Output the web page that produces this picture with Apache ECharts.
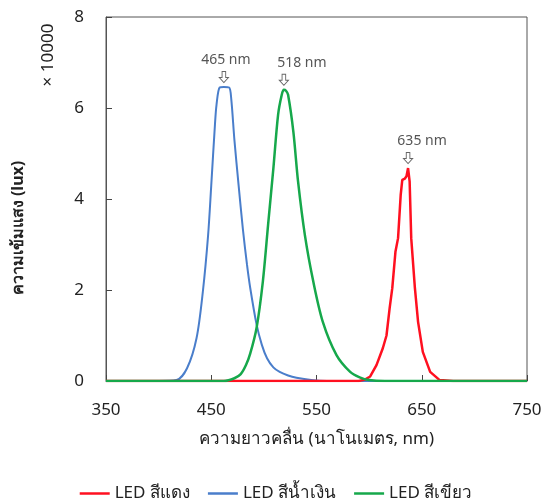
<!DOCTYPE html>
<html>
<head>
<meta charset="utf-8">
<script src="https://cdn.jsdelivr.net/npm/echarts@6/dist/echarts.min.js"></script>
<style>
	html, body { margin: 0; padding: 0; background: #fff; }
	#chart { width: 552px; height: 504px; }
</style>
</head>
<body>
<div id="chart"></div>
<script>
	// wavelength (nm) / intensity (x 10000 lux)
	const seriesNames = ["LED สีแดง", "LED สีน้ำเงิน", "LED สีเขียว"];

	const redNm = [350, 590, 596, 601, 607, 613, 616.5, 619.5, 622, 625, 627.5, 630, 631.5, 634, 635.5, 637, 638.5, 640, 643.5, 646.5, 651, 658, 667, 680, 750];
	const redVal = [0, 0, 0.03, 0.1, 0.35, 0.72, 1.0, 1.6, 2.04, 2.84, 3.14, 4.09, 4.42, 4.45, 4.5, 4.68, 4.38, 3.14, 2.04, 1.3, 0.64, 0.2, 0.02, 0, 0];

	const blueNm = [350, 400, 417, 427, 436, 442, 447, 450, 453.5, 455, 458, 462, 467, 469, 472, 476, 480, 484, 487, 493, 498, 503, 509, 515, 523, 531, 545, 560, 750];
	const blueVal = [0, 0, 0.02, 0.28, 0.94, 1.96, 3.2, 4.3, 5.63, 6.07, 6.45, 6.46, 6.45, 6.2, 5.3, 4.3, 3.35, 2.55, 2.05, 1.25, 0.8, 0.5, 0.3, 0.2, 0.12, 0.07, 0.02, 0, 0];

	const greenNm = [350, 462, 472, 478, 483, 487, 493, 499, 504, 509, 513.5, 517, 519, 521, 523, 528, 532.5, 539, 547, 556, 569, 582, 591, 600, 615, 750];
	const greenVal = [0, 0, 0.06, 0.15, 0.35, 0.6, 1.16, 2.18, 3.43, 4.67, 5.85, 6.29, 6.4, 6.38, 6.29, 5.48, 4.38, 3.2, 2.18, 1.3, 0.57, 0.2, 0.08, 0.02, 0, 0];

	const peakLabels = ["635 nm", "465 nm", "518 nm"];
	const xTicks = [350, 450, 550, 650, 750];
	const yTicks = [0, 2, 4, 6, 8];

	const font = "'Noto Sans', 'DejaVu Sans', sans-serif";
	const arrowPath = "path://M3,0 L7,0 L7,6 L10,6 L5,11 L0,6 L3,6 Z";

	function pairs(xs, ys) {
		return xs.map((x, i) => [x, ys[i]]);
	}

	function peakPoint(xs, ys, text, dx) {
		let k = 0;
		ys.forEach((v, i) => { if (v > ys[k]) k = i; });
		return {
			symbol: arrowPath,
			symbolSize: [9, 11],
			symbolOffset: [0, -10],
			animation: false,
			silent: true,
			itemStyle: { color: "#fff", borderColor: "#666", borderWidth: 1 },
			label: {
				show: true,
				position: "top",
				distance: 4,
				offset: [dx, 0],
				color: "#555",
				fontSize: 14,
				fontFamily: font,
				formatter: text
			},
			data: [{ coord: [xs[k], ys[k]] }]
		};
	}

	const colors = ["#ff1020", "#4a7ecb", "#16a84b"];
	const lineData = [pairs(redNm, redVal), pairs(blueNm, blueVal), pairs(greenNm, greenVal)];
	const peakDx = [14, 2, 18];
	const zs = [3, 2, 4];
	const widths = [2.5, 2, 2.5];
	const smooths = [false, 0.3, 0.3];
	const rawX = [redNm, blueNm, greenNm];
	const rawY = [redVal, blueVal, greenVal];

	const chart = echarts.init(document.getElementById("chart"), null, { renderer: "canvas" });

	const option = {
		animation: false,
		textStyle: { fontFamily: font },
		grid: {
			left: 106,
			right: 25,
			top: 17,
			bottom: 123,
			show: true,
			borderColor: "#555",
			borderWidth: 1
		},
		xAxis: {
			type: "value",
			min: xTicks[0],
			max: xTicks[xTicks.length - 1],
			interval: xTicks[1] - xTicks[0],
			name: "ความยาวคลื่น (นาโนเมตร, nm)",
			nameLocation: "middle",
			nameGap: 50,
			nameTextStyle: { fontSize: 17, color: "#222", fontFamily: font },
			axisLine: { lineStyle: { color: "#555" } },
			axisTick: { inside: true, length: 6, lineStyle: { color: "#444" } },
			axisLabel: { fontSize: 17, color: "#222", margin: 21 },
			splitLine: { show: false }
		},
		yAxis: {
			type: "value",
			min: yTicks[0],
			max: yTicks[yTicks.length - 1],
			interval: yTicks[1] - yTicks[0],
			axisLine: { show: true, lineStyle: { color: "#555" } },
			axisTick: { show: true, inside: true, length: 6, lineStyle: { color: "#444" } },
			axisLabel: { fontSize: 17, color: "#222", margin: 22 },
			splitLine: { show: false }
		},
		legend: {
			data: seriesNames,
			left: "center",
			top: 480,
			icon: "rect",
			itemWidth: 30,
			itemHeight: 2.5,
			itemGap: 18,
			textStyle: { fontSize: 17, color: "#222", fontFamily: font }
		},
		graphic: [
			{
				type: "text",
				x: 18,
				y: 228,
				rotation: Math.PI / 2,
				style: {
					text: "ความเข้มแสง (lux)",
					font: "bold 16px " + font,
					fill: "#222",
					textAlign: "center",
					textVerticalAlign: "middle"
				}
			},
			{
				type: "text",
				x: 48,
				y: 55,
				rotation: Math.PI / 2,
				style: {
					text: "× 10000",
					font: "17px " + font,
					fill: "#222",
					textAlign: "center",
					textVerticalAlign: "middle"
				}
			}
		],
		series: seriesNames.map((name, i) => ({
			name: name,
			type: "line",
			data: lineData[i],
			z: zs[i],
			symbol: "none",
			smooth: smooths[i],
			color: colors[i],
			lineStyle: { width: widths[i], color: colors[i] },
			markPoint: peakPoint(rawX[i], rawY[i], peakLabels[i], peakDx[i])
		}))
	};

	chart.setOption(option);
</script>
</body>
</html>
